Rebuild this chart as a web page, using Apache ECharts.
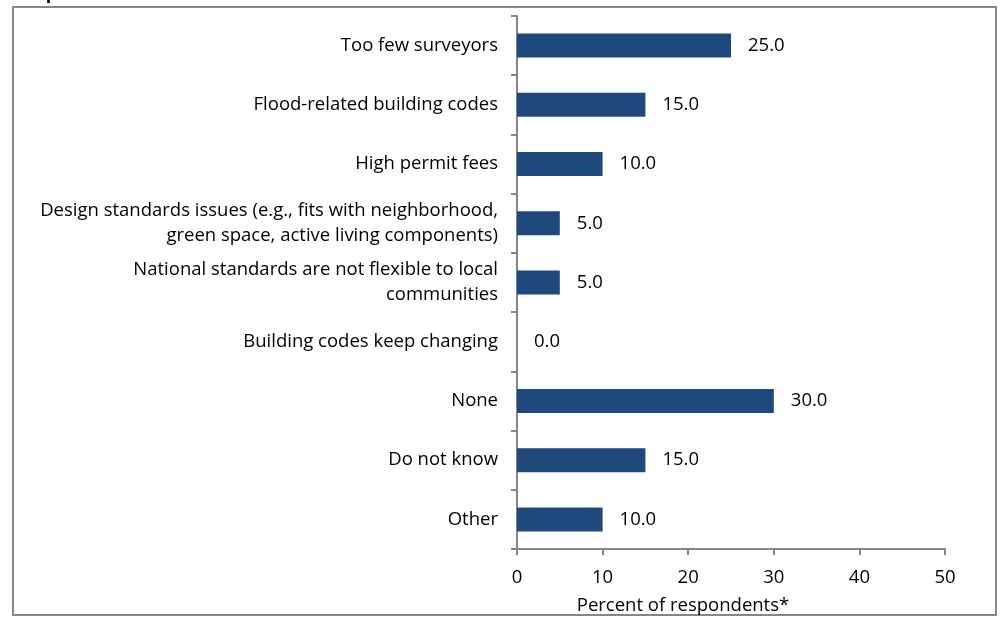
<!DOCTYPE html>
<html><head><meta charset="utf-8">
<script src="https://cdn.jsdelivr.net/npm/echarts@6/dist/echarts.min.js"></script>
<style>html,body{margin:0;padding:0;background:#fff}#c{width:1003px;height:619px}</style>
</head><body><div id="c"></div>
<script>
const categories = [
  "Too few surveyors",
  "Flood-related building codes",
  "High permit fees",
  "Design standards issues (e.g., fits with neighborhood,\ngreen space, active living components)",
  "National standards are not flexible to local\ncommunities",
  "Building codes keep changing",
  "None",
  "Do not know",
  "Other"
];
const values = [25, 15, 10, 5, 5, 0, 30, 15, 10];
const xTicks = [0, 10, 20, 30, 40, 50];
const xAxisTitle = "Percent of respondents*";
const titleText = "respondents.";

const FONT = "'Open Sans', sans-serif";
const FS = 18.5;
const chart = echarts.init(document.getElementById('c'), null, {renderer:'canvas'});
chart.setOption({
  animation: false,
  backgroundColor: '#fff',
  grid: {left: 517, right: 58, top: 16, bottom: 70, containLabel: false},
  xAxis: {
    type: 'value', min: xTicks[0], max: xTicks[xTicks.length-1], interval: 10,
    axisLine: {show: true, lineStyle: {color: '#868686', width: 2}},
    axisTick: {show: true, length: 6, lineStyle: {color: '#868686', width: 2}},
    splitLine: {show: false},
    axisLabel: {color: '#000', fontFamily: FONT, fontSize: FS, margin: 19}
  },
  yAxis: {
    type: 'category', data: categories, inverse: true,
    axisLine: {show: true, lineStyle: {color: '#868686', width: 2}},
    axisTick: {show: true, length: 6, alignWithLabel: false, lineStyle: {color: '#868686', width: 2}},
    axisLabel: {color: '#000', fontFamily: FONT, fontSize: FS, margin: 19, align: 'right', lineHeight: 25}
  },
  series: [{
    type: 'bar', data: values, barWidth: 24,
    itemStyle: {color: '#1F497D'},
    label: {show: true, position: 'right', distance: 17, color: '#000', fontFamily: FONT, fontSize: FS,
      formatter: p => p.value.toFixed(1)}
  }],
  graphic: [
    {type: 'rect', shape: {x: 13, y: 7, width: 983, height: 608}, style: {fill: 'none', stroke: '#868686', lineWidth: 2}, silent: true},
    {type: 'text', x: 683, y: 596, style: {text: xAxisTitle, fill: '#000', font: FS + "px 'Open Sans', sans-serif", textAlign: 'center'}},
    {type: 'text', x: 18, y: -15, style: {text: titleText, fill: '#000', font: "bold 18px 'Open Sans', sans-serif"}}
  ]
});
</script></body></html>
